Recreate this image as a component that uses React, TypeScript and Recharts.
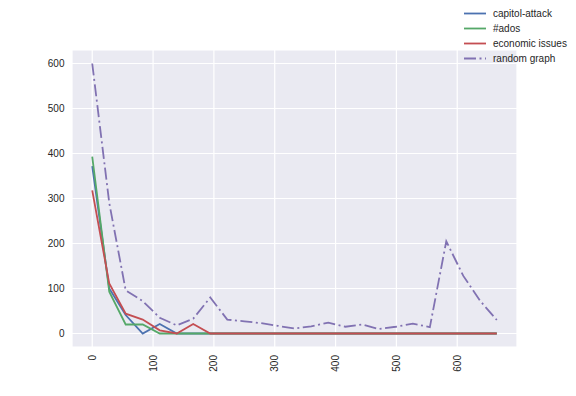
import React from "react";
import { LineChart, Line, XAxis, YAxis, CartesianGrid } from "recharts";

const xValues = [0, 28, 55, 83, 111, 139, 166, 194, 222, 250, 277, 305, 333, 360, 388, 416, 444, 471, 499, 527, 555, 582, 610, 638, 665];
const capitolAttack = [372, 100, 41, 0, 21, 0, 0, 0, 0, 0, 0, 0, 0, 0, 0, 0, 0, 0, 0, 0, 0, 0, 0, 0, 0];
const ados = [393, 93, 20, 20, 0, 0, 0, 0, 0, 0, 0, 0, 0, 0, 0, 0, 0, 0, 0, 0, 0, 0, 0, 0, 0];
const economicIssues = [318, 111, 44, 31, 7, 0, 21, 0, 0, 0, 0, 0, 0, 0, 0, 0, 0, 0, 0, 0, 0, 0, 0, 0, 0];
const randomGraph = [600, 290, 96, 72, 35, 18, 33, 80, 31, 27, 23, 17, 11, 16, 24, 15, 20, 10, 15, 22, 14, 205, 128, 72, 30];

const xTicks = [0, 100, 200, 300, 400, 500, 600];
const yTicks = [0, 100, 200, 300, 400, 500, 600];

const seriesNames = ["capitol-attack", "#ados", "economic issues", "random graph"];
const seriesKeys = ["a", "b", "c", "d"];
const seriesColors = ["#4C72B0", "#55A868", "#C44E52", "#8172B2"];
const seriesDash = [undefined, undefined, undefined, "12 3.5 2 3.5"];

const data = xValues.map((x, i) => ({
  x,
  a: capitolAttack[i],
  b: ados[i],
  c: economicIssues[i],
  d: randomGraph[i],
}));

const TEXT = "#262626";
const FONT = "'Liberation Sans', Arial, sans-serif";

const XTick = (props: any) => {
  const { x, y, payload } = props;
  return (
    <text
      x={x}
      y={y}
      transform={`rotate(-90, ${x}, ${y})`}
      textAnchor="end"
      dominantBaseline="central"
      fontSize={10}
      fill={TEXT}
      fontFamily={FONT}
    >
      {payload.value}
    </text>
  );
};

export default function App() {
  return (
    <div style={{ position: "absolute", left: 0, top: 0, width: 576, height: 396, background: "#fff" }}>
      <LineChart
        width={576}
        height={396}
        data={data}
        margin={{ top: 50, right: 59, bottom: 0, left: 0 }}
      >
        <CartesianGrid stroke="#ffffff" strokeWidth={1.2} fill="#EAEAF2" />
        <XAxis
          dataKey="x"
          type="number"
          domain={[-33.25, 698.25]}
          ticks={xTicks}
          allowDataOverflow
          axisLine={false}
          tickLine={false}
          tickSize={0}
          tickMargin={8}
          height={49}
          tick={<XTick />}
          interval={0}
        />
        <YAxis
          type="number"
          domain={[-30, 630]}
          ticks={yTicks}
          allowDataOverflow
          axisLine={false}
          tickLine={false}
          tickSize={0}
          tickMargin={7.5}
          width={72}
          interval={0}
          tick={{ fontSize: 10, fill: TEXT, fontFamily: FONT }}
        />
        {seriesKeys.map((k, i) => (
          <Line
            key={k}
            dataKey={k}
            name={seriesNames[i]}
            stroke={seriesColors[i]}
            strokeWidth={1.8}
            strokeDasharray={seriesDash[i]}
            dot={false}
            activeDot={false}
            type="linear"
            isAnimationActive={false}
          />
        ))}
      </LineChart>
      <svg
        width={116}
        height={70}
        style={{ position: "absolute", left: 460, top: 0 }}
      >
        {seriesNames.map((name, i) => {
          const cy = 13.5 + i * 15;
          return (
            <g key={name}>
              <line
                x1={4}
                x2={26}
                y1={cy}
                y2={cy}
                stroke={seriesColors[i]}
                strokeWidth={1.8}
                strokeDasharray={seriesDash[i]}
              />
              <text
                x={33}
                y={cy}
                dominantBaseline="central"
                fontSize={10}
                fill={TEXT}
                fontFamily={FONT}
              >
                {name}
              </text>
            </g>
          );
        })}
      </svg>
    </div>
  );
}
